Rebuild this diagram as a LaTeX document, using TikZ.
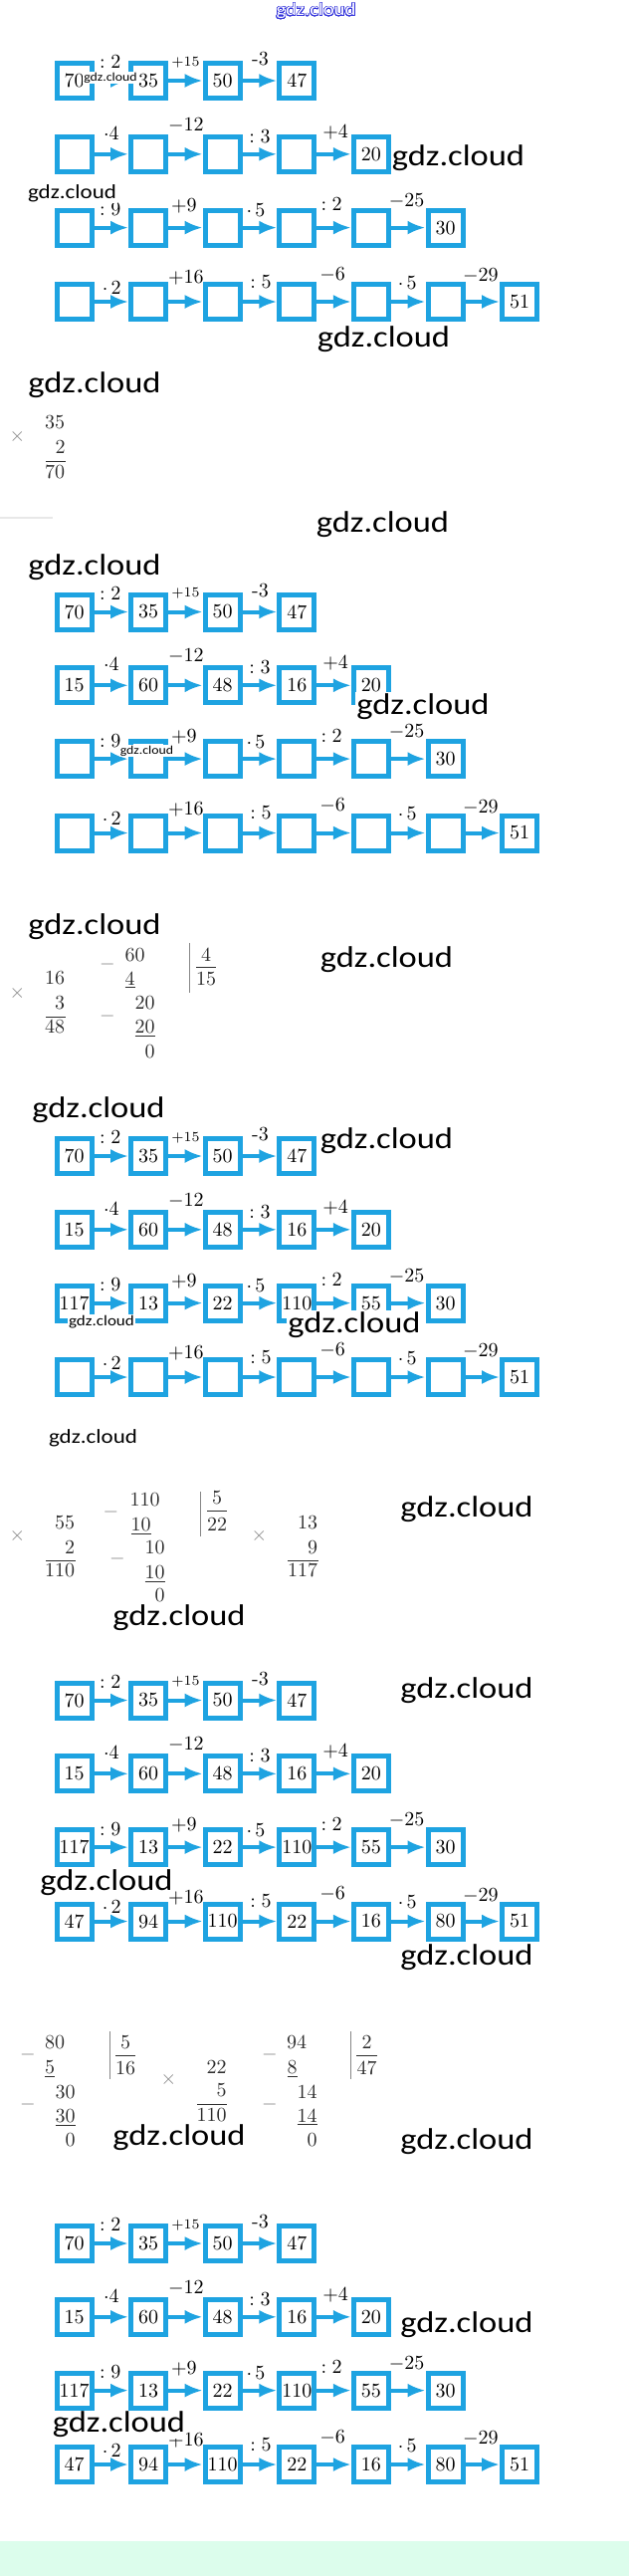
\documentclass[tikz,border=0pt]{standalone}
\usepackage{fontspec}
\usepackage{graphicx}
\usepackage{contour}
\usetikzlibrary{arrows.meta,calc}
\newfontfamily\wmfont{Carlito}
\definecolor{chainblue}{RGB}{30,163,225}
\definecolor{wmblue}{RGB}{50,50,220}
\definecolor{mint}{RGB}{220,253,236}
\definecolor{opgray}{RGB}{135,135,135}
\definecolor{digit}{RGB}{45,45,45}
\contourlength{0.22pt}
\contournumber{32}
\tikzset{
  cbox/.style={draw=chainblue, line width=2.5pt, fill=white, minimum size=17.5pt,
    inner sep=0pt, font=\fontsize{10}{12}\selectfont},
  carrow/.style={draw=chainblue, line width=2pt, -{Latex[length=9pt,width=7pt]}},
  clab/.style={inner sep=0pt, font=\fontsize{10}{12}\selectfont},
  wm/.style={inner sep=0.6pt, fill=white, text=black},
  num/.style={inner sep=0pt, anchor=base east, text=digit, font=\fontsize{10}{12}\selectfont},
  numc/.style={inner sep=0pt, anchor=base, text=digit, font=\fontsize{10}{12}\selectfont},
  sign/.style={inner sep=0pt, text=opgray, font=\fontsize{10}{12}\selectfont},
  arule/.style={draw=digit, line width=0.45pt},
  bar/.style={draw=opgray, line width=0.5pt},
}
\newcommand\chainrow[3]{%
  \foreach \v [count=\i] in {#3} {
    \node[cbox] (#1-\i) at ({74.5+74.6*(\i-1)},{#2}) {\v};
  }}
\newcommand\chainops[2]{%
  \foreach \lab/\dx/\dy [count=\i] in #2 {
    \pgfmathtruncatemacro\j{\i+1}
    \draw[carrow] (#1-\i) -- (#1-\j);
    \node[clab] (#1-l\i) at ($(#1-\i.east)!0.5!(#1-\j.west)+(\dx,\dy)$) {\lab};
  }}
\def\opsA{{$:2$}/-1/-18.5,{\fontsize{7.5}{9}\selectfont$+15$}/0/-18.5,{-3}/0.5/-21.5}
\def\opsB{{$\cdot4$}/0/-21,{$-12$}/0.5/-29,{$:3$}/0/-18,{$+4$}/1.5/-22}
\def\opsC{{$:9$}/-1/-18.5,{$+9$}/-1.5/-22,{$\cdot\,5$}/-4/-17.5,{$:2$}/-2.5/-23.5,{$-25$}/-1.5/-27}
\def\opsD{{$\cdot\,2$}/0.5/-14,{$+16$}/0.5/-24,{$:5$}/1/-20,{$-6$}/-1.5/-27.5,{$\cdot\,5$}/-1/-19,{$-29$}/-2/-26}
\newcommand\chainblock[6]{%
  \chainrow{#1a}{#2}{#3}\chainops{#1a}{\opsA}%
  \chainrow{#1b}{#2+73.8}{#4}\chainops{#1b}{\opsB}%
  \chainrow{#1c}{#2+147.6}{#5}\chainops{#1c}{\opsC}%
  \chainrow{#1d}{#2+222}{#6}\chainops{#1d}{\opsD}%
}
\newcommand\gdz[1]{\scalebox{1.15}[1]{\wmfont\fontsize{#1}{#1}\selectfont gdz.cloud}}
\begin{document}
\begin{tikzpicture}[x=0.5pt,y=-0.5pt]
\fill[white] (0,0) rectangle (632,2587);
\path[use as bounding box] (0,0) rectangle (632,2587);
\fill[mint] (0,2552) rectangle (632,2587);

% ---------- chains ----------
\chainblock{A}{81}{70,35,50,47}{{},{},{},{},20}{{},{},{},{},{},30}{{},{},{},{},{},{},51}
\chainblock{B}{614.5}{70,35,50,47}{15,60,48,16,20}{{},{},{},{},{},30}{{},{},{},{},{},{},51}
\chainblock{C}{1161}{70,35,50,47}{15,60,48,16,20}{117,13,22,110,55,30}{{},{},{},{},{},{},51}
\chainblock{D}{1707.5}{70,35,50,47}{15,60,48,16,20}{117,13,22,110,55,30}{47,94,110,22,16,80,51}
\chainblock{E}{2253}{70,35,50,47}{15,60,48,16,20}{117,13,22,110,55,30}{47,94,110,22,16,80,51}

% faint smudge
\draw[gray!18, line width=1pt] (0,520) -- (53,520);

% ---------- 35 x 2 ----------
\node[sign] (m1x) at (17.5,438) {$\times$};
\node[num] (m1a) at (65.5,430) {35};
\node[num] (m1b) at (66,455) {2};
\draw[arule] (46,463) -- (66,463);
\node[num] (m1c) at (65.5,480) {70};

% ---------- 16 x 3, 60 : 4 ----------
\node[sign] (m2x) at (17.5,997) {$\times$};
\node[num] (m2a) at (65.5,988) {16};
\node[num] (m2b) at (65.5,1013) {3};
\draw[arule] (46,1021) -- (66,1021);
\node[num] (m2c) at (65.5,1037) {48};
\node[sign] (d1m1) at (108,968) {$-$};
\node[num] (d1a) at (146,965) {60};
\node[num] (d1b) at (136,989) {\underline{4}};
\node[sign] (d1m2) at (108,1020) {$-$};
\node[num] (d1c) at (156,1013) {20};
\node[num] (d1d) at (156,1037) {\underline{20}};
\node[num] (d1e) at (156,1062) {0};
\draw[bar] (190,947) -- (190,997);
\node[numc] (d1q) at (207,965) {4};
\draw[arule] (197,971) -- (217,971);
\node[numc] (d1r) at (207,989) {15};

% ---------- 55 x 2, 110 : 5, 13 x 9 ----------
\node[sign] (m3x) at (17.5,1542.5) {$\times$};
\node[num] (m3a) at (75.5,1535) {55};
\node[num] (m3b) at (75.5,1560) {2};
\draw[arule] (46,1567) -- (76,1567);
\node[num] (m3c) at (75.5,1583) {110};
\node[sign] (d2m1) at (111.5,1518) {$-$};
\node[num] (d2a) at (161,1512) {110};
\node[num] (d2b) at (152,1537) {\underline{10}};
\node[sign] (d2m2) at (118,1565) {$-$};
\node[num] (d2c) at (166,1560) {10};
\node[num] (d2d) at (166,1585) {\underline{10}};
\node[num] (d2e) at (166,1608) {0};
\draw[bar] (201,1498) -- (201,1543);
\node[numc] (d2q) at (218,1510) {5};
\draw[arule] (208,1517) -- (228,1517);
\node[numc] (d2r) at (218,1537) {22};
\node[sign] (m4x) at (260.5,1542.5) {$\times$};
\node[num] (m4a) at (319.5,1535) {13};
\node[num] (m4b) at (319.5,1560) {9};
\draw[arule] (289,1567.5) -- (320,1567.5);
\node[num] (m4c) at (319.5,1583) {117};

% ---------- 80 : 5, 22 x 5, 94 : 2 ----------
\node[sign] (d3m1) at (28,2063) {$-$};
\node[num] (d3a) at (65.5,2057) {80};
\node[num] (d3b) at (55.5,2082) {\underline{5}};
\node[sign] (d3m2) at (28,2113) {$-$};
\node[num] (d3c) at (76,2107) {30};
\node[num] (d3d) at (76,2131) {\underline{30}};
\node[num] (d3e) at (76,2155) {0};
\draw[bar] (110,2040) -- (110,2088);
\node[numc] (d3q) at (126,2057) {5};
\draw[arule] (116,2064) -- (136,2064);
\node[numc] (d3r) at (126,2083) {16};
\node[sign] (m5x) at (169.5,2088) {$\times$};
\node[num] (m5a) at (228,2082) {22};
\node[num] (m5b) at (228,2105) {5};
\draw[arule] (198,2113) -- (228,2113);
\node[num] (m5c) at (228,2130) {110};
\node[sign] (d4m1) at (271,2063) {$-$};
\node[num] (d4a) at (308.5,2057) {94};
\node[num] (d4b) at (299,2082) {\underline{8}};
\node[sign] (d4m2) at (271,2113) {$-$};
\node[num] (d4c) at (319,2107) {14};
\node[num] (d4d) at (319,2131) {\underline{14}};
\node[num] (d4e) at (319,2155) {0};
\draw[bar] (352,2040) -- (352,2088);
\node[numc] (d4q) at (368.5,2057) {2};
\draw[arule] (358,2064) -- (379,2064);
\node[numc] (d4r) at (368.5,2083) {47};

% ---------- watermarks ----------
\node[inner sep=0pt] (w0) at (317.5,11.5) {\scalebox{1.15}[1]{\wmfont\fontsize{9}{10}\selectfont\contour{wmblue}{\color{white}gdz.cloud}}};
\node[wm] (w1) at (111,78) {\gdz{6}};
\node[wm] (w2) at (460.5,159) {\gdz{15}};
\node[wm] (w3) at (72.5,194) {\gdz{10}};
\node[wm] (w4) at (385.5,341) {\gdz{15}};
\node[wm] (w5) at (95,386.5) {\gdz{15}};
\node[wm] (w6) at (384.5,526.5) {\gdz{15}};
\node[wm] (w7) at (95,570) {\gdz{15}};
\node[wm] (w8) at (425,709.5) {\gdz{15}};
\node[wm] (w9) at (147.5,754) {\gdz{6}};
\node[wm] (w10) at (95,930.5) {\gdz{15}};
\node[wm] (w11) at (388.5,963.5) {\gdz{15}};
\node[wm] (w12) at (99,1114.5) {\gdz{15}};
\node[wm] (w13) at (388.5,1145.5) {\gdz{15}};
\node[wm] (w14) at (102,1327.5) {\gdz{7.4}};
\node[wm] (w15) at (356,1330.5) {\gdz{15}};
\node[wm] (w16) at (93.5,1444) {\gdz{10}};
\node[wm] (w17) at (469,1515.5) {\gdz{15}};
\node[wm] (w18) at (180,1624.5) {\gdz{15}};
\node[wm] (w19) at (469,1697.5) {\gdz{15}};
\node[wm] (w20) at (107,1890.5) {\gdz{15}};
\node[wm] (w21) at (469,1965.5) {\gdz{15}};
\node[wm] (w22) at (180,2146.5) {\gdz{15}};
\node[wm] (w23) at (469,2150.5) {\gdz{15}};
\node[wm] (w24) at (469,2334.5) {\gdz{15}};
\node[wm] (w25) at (119.5,2435) {\gdz{15}};
\end{tikzpicture}
\end{document}
